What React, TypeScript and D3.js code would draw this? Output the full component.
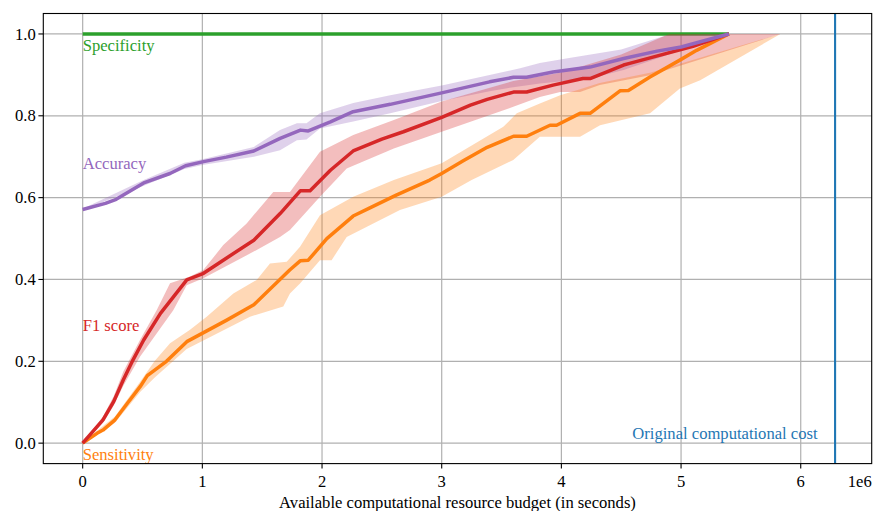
import React from "react";
import * as d3 from "d3";

// ---------- data (x in units of 1e6 seconds) ----------
const specX = [0, 5.4];
const specY = [1, 1];

const accX = [0, 0.19, 0.28, 0.51, 0.73, 0.86, 1.01, 1.2, 1.43, 1.65, 1.82, 1.885, 2.07, 2.26, 2.57, 3.0, 3.4, 3.6, 3.71, 3.93, 4.24, 4.52, 4.8, 5.0, 5.2, 5.4];
const accY = [0.571, 0.586, 0.596, 0.636, 0.659, 0.678, 0.688, 0.699, 0.714, 0.745, 0.765, 0.763, 0.785, 0.81, 0.828, 0.856, 0.883, 0.894, 0.894, 0.907, 0.919, 0.94, 0.958, 0.968, 0.984, 1.0];

const f1X = [0, 0.17, 0.26, 0.34, 0.42, 0.51, 0.65, 0.87, 1.01, 1.2, 1.43, 1.65, 1.82, 1.9, 2.07, 2.26, 2.5, 2.68, 3.0, 3.24, 3.38, 3.6, 3.71, 3.93, 4.18, 4.24, 4.52, 4.57, 4.85, 5.1, 5.4];
const f1Y = [0, 0.057, 0.102, 0.155, 0.203, 0.252, 0.317, 0.399, 0.415, 0.452, 0.496, 0.561, 0.617, 0.617, 0.667, 0.714, 0.743, 0.761, 0.796, 0.826, 0.84, 0.858, 0.858, 0.875, 0.891, 0.891, 0.924, 0.928, 0.95, 0.97, 1.0];

const sensX = [0, 0.12, 0.17, 0.27, 0.38, 0.48, 0.54, 0.7, 0.87, 1.01, 1.2, 1.43, 1.73, 1.82, 1.885, 2.04, 2.26, 2.4, 2.62, 2.9, 3.0, 3.18, 3.38, 3.6, 3.71, 3.905, 3.96, 4.156, 4.24, 4.49, 4.56, 4.74, 4.99, 5.13, 5.4];
const sensY = [0, 0.024, 0.032, 0.057, 0.1, 0.138, 0.165, 0.2, 0.248, 0.27, 0.3, 0.338, 0.423, 0.446, 0.447, 0.5, 0.555, 0.575, 0.606, 0.643, 0.659, 0.69, 0.723, 0.75, 0.75, 0.777, 0.777, 0.806, 0.806, 0.861, 0.862, 0.895, 0.936, 0.96, 1.0];

// band edges: [x, y] pairs
const accBandUpper = [[0, 0.573], [0.5, 0.642], [0.85, 0.685], [1.0, 0.694], [1.43, 0.724], [1.649, 0.765], [1.79, 0.782], [1.87, 0.782], [1.983, 0.806], [2.261, 0.831], [2.57, 0.85], [3.0, 0.874], [3.4, 0.9], [3.655, 0.916], [3.82, 0.929], [4.04, 0.94], [4.5, 0.962], [4.88, 0.997], [5.4, 1.0]];
const accBandLower = [[0, 0.569], [0.5, 0.628], [0.85, 0.67], [1.0, 0.68], [1.43, 0.7], [1.649, 0.716], [1.79, 0.74], [1.87, 0.742], [1.983, 0.769], [2.261, 0.786], [2.57, 0.806], [3.0, 0.836], [3.4, 0.86], [3.598, 0.87], [3.82, 0.879], [4.24, 0.891], [4.52, 0.912], [4.8, 0.94], [5.4, 1.0]];

const f1BandUpper = [[0, 0.002], [0.17, 0.065], [0.26, 0.115], [0.34, 0.175], [0.479, 0.252], [0.618, 0.325], [0.73, 0.391], [0.897, 0.407], [1.008, 0.423], [1.175, 0.484], [1.37, 0.537], [1.593, 0.614], [1.732, 0.614], [1.983, 0.712], [2.261, 0.753], [2.6, 0.79], [3.0, 0.835], [3.598, 0.885], [3.99, 0.905], [4.5, 0.95], [4.9, 1.0], [5.4, 1.0]];
const f1BandLower = [[0, -0.002], [0.17, 0.05], [0.26, 0.092], [0.34, 0.14], [0.479, 0.211], [0.757, 0.325], [0.869, 0.386], [1.008, 0.403], [1.454, 0.472], [1.649, 0.504], [1.732, 0.521], [1.983, 0.602], [2.206, 0.671], [2.6, 0.72], [3.0, 0.761], [3.598, 0.822], [3.82, 0.846], [3.99, 0.858], [4.156, 0.858], [4.32, 0.875], [4.74, 0.899], [5.83, 1.0]];

const sensBandUpper = [[0, 0.002], [0.27, 0.065], [0.48, 0.15], [0.6, 0.2], [0.73, 0.244], [0.897, 0.277], [1.036, 0.309], [1.259, 0.366], [1.454, 0.399], [1.565, 0.439], [1.705, 0.443], [1.816, 0.48], [1.983, 0.557], [2.261, 0.602], [2.6, 0.643], [3.0, 0.684], [3.515, 0.773], [3.627, 0.806], [3.82, 0.83], [3.99, 0.85], [4.156, 0.865], [4.32, 0.88], [4.74, 0.905], [5.83, 1.0]];
const sensBandLower = [[0, -0.002], [0.27, 0.05], [0.48, 0.125], [0.6, 0.16], [0.869, 0.23], [1.398, 0.309], [1.676, 0.334], [1.732, 0.366], [1.816, 0.39], [1.983, 0.447], [2.08, 0.447], [2.206, 0.504], [2.651, 0.57], [3.0, 0.602], [3.25, 0.643], [3.598, 0.692], [3.82, 0.749], [4.156, 0.749], [4.323, 0.777], [4.741, 0.806], [4.99, 0.867], [5.16, 0.887], [5.83, 1.0]];

const originalCost = 6.287;

const xTicks = [0, 1, 2, 3, 4, 5, 6];
const xTickLabels = ["0", "1", "2", "3", "4", "5", "6"];
const yTicks = [0, 0.2, 0.4, 0.6, 0.8, 1.0];
const yTickLabels = ["0.0", "0.2", "0.4", "0.6", "0.8", "1.0"];

const seriesNames = ["Specificity", "Accuracy", "F1 score", "Sensitivity"];
const labelY = [0.959, 0.671, 0.275, -0.041];

const xLabel = "Available computational resource budget (in seconds)";
const offsetText = "1e6";
const costLabel = "Original computational cost";

// ---------- layout ----------
const W = 875, H = 511;
const L = 43.3, R = 871.7, T = 13.5, B = 463.6;
const FONT = "'Liberation Serif', 'DejaVu Serif', serif";
const FS = 16.6;

const C = { green: "#2ca02c", purple: "#9467bd", red: "#d62728", orange: "#ff7f0e", blue: "#1f77b4" };

export default function App() {
  const x = d3.scaleLinear().domain([-0.329, 6.593]).range([L, R]);
  const y = d3.scaleLinear().domain([-0.05, 1.05]).range([B, T]);

  const line = d3.line<[number, number]>().x((d) => x(d[0])).y((d) => y(d[1]));
  const zip = (xs: number[], ys: number[]) => xs.map((v, i) => [v, ys[i]] as [number, number]);
  const band = (up: number[][], lo: number[][]) => {
    const pts = [...up, ...lo.slice().reverse()] as [number, number][];
    return line(pts) + "Z";
  };

  const lw = 3.5;

  return (
    <svg width={W} height={H} style={{ position: "absolute", left: 0, top: 0, background: "#fff" }} fontFamily={FONT}>
      <rect x={0} y={0} width={W} height={H} fill="#fff" />
      <defs>
        <clipPath id="plot">
          <rect x={L} y={T} width={R - L} height={B - T} />
        </clipPath>
      </defs>
      {/* grid */}
      <g stroke="#b0b0b0" strokeWidth={1.2}>
        {xTicks.map((t) => (
          <line key={"gx" + t} x1={x(t)} x2={x(t)} y1={T} y2={B} />
        ))}
        {yTicks.map((t) => (
          <line key={"gy" + t} x1={L} x2={R} y1={y(t)} y2={y(t)} />
        ))}
      </g>
      <g clipPath="url(#plot)">
        <path d={line(zip(specX, specY)) || ""} fill="none" stroke={C.green} strokeWidth={lw} />
        <path d={band(accBandUpper, accBandLower)} fill={C.purple} fillOpacity={0.3} stroke="none" />
        <path d={band(f1BandUpper, f1BandLower)} fill={C.red} fillOpacity={0.3} stroke="none" />
        <path d={band(sensBandUpper, sensBandLower)} fill={C.orange} fillOpacity={0.3} stroke="none" />
        <path d={line(zip(sensX, sensY)) || ""} fill="none" stroke={C.orange} strokeWidth={lw} strokeLinejoin="round" />
        <path d={line(zip(f1X, f1Y)) || ""} fill="none" stroke={C.red} strokeWidth={lw} strokeLinejoin="round" />
        <path d={line(zip(accX, accY)) || ""} fill="none" stroke={C.purple} strokeWidth={lw} strokeLinejoin="round" />
        <line x1={x(originalCost)} x2={x(originalCost)} y1={T} y2={B} stroke={C.blue} strokeWidth={2.1} />
      </g>
      {/* series labels */}
      {seriesNames.map((n, i) => (
        <text key={n} x={x(0)} y={y(labelY[i])} fontSize={FS} fill={[C.green, C.purple, C.red, C.orange][i]}>
          {n}
        </text>
      ))}
      <text x={x(originalCost) - 17.5} y={y(0.01)} fontSize={FS} fill={C.blue} textAnchor="end">
        {costLabel}
      </text>
      {/* spines */}
      <rect x={L} y={T} width={R - L} height={B - T} fill="none" stroke="#000" strokeWidth={1.1} />
      {/* x ticks */}
      {xTicks.map((t, i) => (
        <g key={"xt" + t}>
          <line x1={x(t)} x2={x(t)} y1={B} y2={B + 4.9} stroke="#000" strokeWidth={1.1} />
          <text x={x(t)} y={487} fontSize={FS} textAnchor="middle" fill="#000">
            {xTickLabels[i]}
          </text>
        </g>
      ))}
      {/* y ticks */}
      {yTicks.map((t, i) => (
        <g key={"yt" + t}>
          <line x1={L - 4.9} x2={L} y1={y(t)} y2={y(t)} stroke="#000" strokeWidth={1.1} />
          <text x={L - 7.5} y={y(t)} dy="0.34em" fontSize={FS} textAnchor="end" fill="#000">
            {yTickLabels[i]}
          </text>
        </g>
      ))}
      <text x={R} y={487} fontSize={FS} textAnchor="end" fill="#000">
        {offsetText}
      </text>
      <text x={(L + R) / 2} y={508} fontSize={FS} textAnchor="middle" fill="#000">
        {xLabel}
      </text>
    </svg>
  );
}
